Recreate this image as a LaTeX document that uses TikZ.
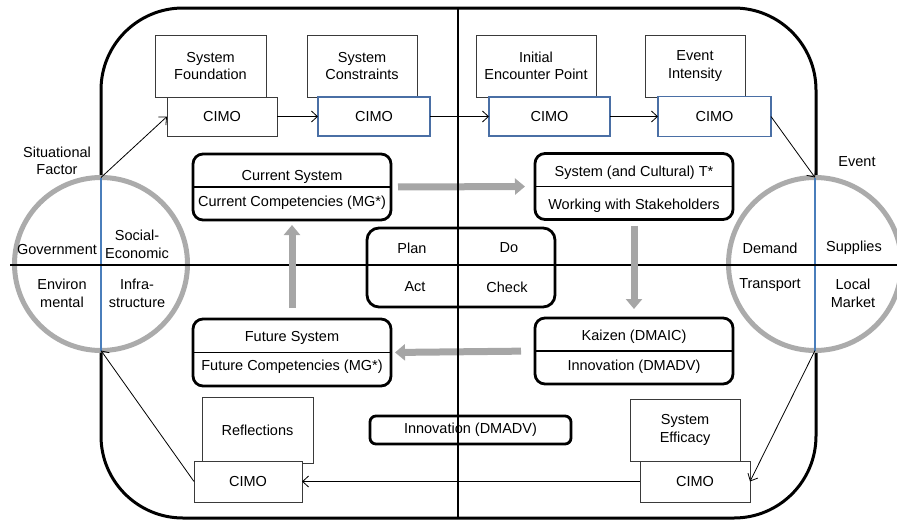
\documentclass[tikz,border=0pt]{standalone}
\usepackage{fontspec}
\setmainfont{Liberation Sans}
\usetikzlibrary{arrows.meta}
\definecolor{ringgray}{HTML}{ABABAB}
\definecolor{flowgray}{HTML}{A6A6A6}
\definecolor{cimoblue}{HTML}{4A6FA5}
\definecolor{axisblue}{HTML}{4A7EBB}
\definecolor{boxgray}{HTML}{3A3A3A}
\tikzset{
  every node/.style={font=\fontsize{14.5}{17.5}\selectfont, align=center, inner sep=0pt, outer sep=0pt},
  topicbox/.style={draw=boxgray, line width=1pt, fill=white},
  cimobox/.style={draw=boxgray, line width=1pt, fill=white},
  cimoblue/.style={draw=cimoblue, line width=1.6pt, fill=white},
  phasebox/.style={draw=black, line width=2.8pt, rounded corners=10pt},
  ring/.style={circle, draw=ringgray, line width=5pt, fill=white, minimum size=173pt},
  thinarrow/.style={line width=0.8pt, -{Straight Barb[length=6pt,width=11pt,line width=0.8pt]}},
  flowarrow/.style={draw=flowgray, line width=7pt, -{Triangle[length=10pt,width=16pt]}},
  axis/.style={line width=2.2pt, black},
}
\begin{document}
\begin{tikzpicture}[x=1pt,y=-1pt]
\useasboundingbox (0,0) rectangle (897,520);

% outer frame
\draw[line width=3pt, rounded corners=82pt] (101,8) rectangle (816,518);

% situational rings
\node[ring] (lc) at (101,264) {};
\node[ring] (rc) at (815,264) {};
\draw[draw=axisblue, line width=2pt] (lc.north) -- (lc.south);
\draw[draw=axisblue, line width=2pt] (rc.north) -- (rc.south);

% horizontal axis
\draw[axis] (10,265) -- (897,265);

% ring labels
\node at (57,250) {Government};
\node at (137,244.5) {Social-\\Economic};
\node at (62,293.5) {Environ\\mental};
\node at (137,293.5) {Infra-\\structure};
\node at (770,248) {Demand};
\node at (854,248) {Supplies};
\node at (770,285) {Transport};
\node at (853,293.5) {Local\\Market};
\node at (57,161) {Situational\\Factor};
\node at (857,162) {Event};

% top row of topics with CIMO boxes
\node[topicbox, minimum width=111pt, minimum height=62pt] (t1) at (210.5,66) {System\\Foundation};
\node[cimobox, minimum width=110pt, minimum height=39pt] (c1) at (222,116.5) {CIMO};
\node[topicbox, minimum width=110pt, minimum height=62pt] (t2) at (362,66) {System\\Constraints};
\node[cimoblue, minimum width=112pt, minimum height=39pt] (c2) at (374,116.5) {CIMO};
\node[topicbox, minimum width=120pt, minimum height=62pt] (t3) at (536,66) {Initial\\Encounter Point};
\node[cimoblue, minimum width=121pt, minimum height=39pt] (c3) at (549.5,116.5) {CIMO};
\node[topicbox, minimum width=100pt, minimum height=62pt] (t4) at (695,66) {Event\\Intensity};
\node[cimoblue, minimum width=113pt, minimum height=40pt] (c4) at (714.5,116.5) {CIMO};

% bottom row of topics with CIMO boxes
\node[topicbox, minimum width=111pt, minimum height=66pt] (t5) at (257.5,430) {Reflections};
\node[cimobox, minimum width=108pt, minimum height=41pt] (c5) at (248,481.5) {CIMO};
\node[topicbox, minimum width=110pt, minimum height=62pt] (t6) at (685,430) {System\\Efficacy};
\node[cimobox, minimum width=110pt, minimum height=41pt] (c6) at (695,481.5) {CIMO};

% thin connectors
\draw[thinarrow] (lc.north) -- (c1.west);
\draw[thinarrow] (c1.east) -- (c2.west);
\draw[thinarrow] (c2.east) -- (c3.west);
\draw[thinarrow] (c3.east) -- (c4.west);
\draw[thinarrow] (c4.east) -- (rc.north);
\draw[thinarrow] (rc.south) -- (c6.east);
\draw[thinarrow] (c6.west) -- (c5.east);
\draw[thinarrow] (c5.west) -- (lc.south);

% improvement cycle boxes
\node[phasebox, minimum width=198pt, minimum height=66pt] (cur) at (292,187) {};
\draw[line width=1.6pt] (cur.west) -- (cur.east);
\node at (292,177) {Current System};
\node at (292,202.5) {Current Competencies (MG*)};

\node[phasebox, minimum width=198pt, minimum height=66pt] (sys) at (634,186.5) {};
\draw[line width=1.6pt] (sys.west) -- (sys.east);
\node at (634,173) {System (and Cultural) T*};
\node at (634,206) {Working with Stakeholders};

\node[phasebox, minimum width=198pt, minimum height=66pt] (kai) at (634,351) {};
\draw[line width=1.6pt] (kai.west) -- (kai.east);
\node at (634,337) {Kaizen (DMAIC)};
\node at (634,367) {Innovation (DMADV)};

\node[phasebox, minimum width=198pt, minimum height=67pt] (fut) at (292,352.5) {};
\draw[line width=1.6pt] (fut.west) -- (fut.east);
\node at (292,338) {Future System};
\node at (292,367) {Future Competencies (MG*)};

% PDCA box
\node[phasebox, rounded corners=12pt, minimum width=188pt, minimum height=79pt] (pdca) at (461,267.5) {};
\node at (412,248) {Plan};
\node at (509,248) {Do};
\node at (415,287) {Act};
\node at (507,287) {Check};

% standalone innovation box
\node[phasebox, rounded corners=6pt, minimum width=201pt, minimum height=28pt] (inn) at (470.5,430) {Innovation (DMADV)};

% grey flow arrows
\draw[flowarrow, shorten <=7pt, shorten >=10pt] (cur.east) -- (sys.west);
\draw[flowarrow, shorten <=6pt, shorten >=9pt] (sys.south) -- (kai.north);
\draw[flowarrow, shorten <=14pt, shorten >=4pt] (kai.west) -- (fut.east);
\draw[flowarrow, shorten <=11pt, shorten >=5pt] (fut.north) -- (cur.south);

% vertical axis
\draw[axis] (458,8) -- (458,518);
\end{tikzpicture}
\end{document}
